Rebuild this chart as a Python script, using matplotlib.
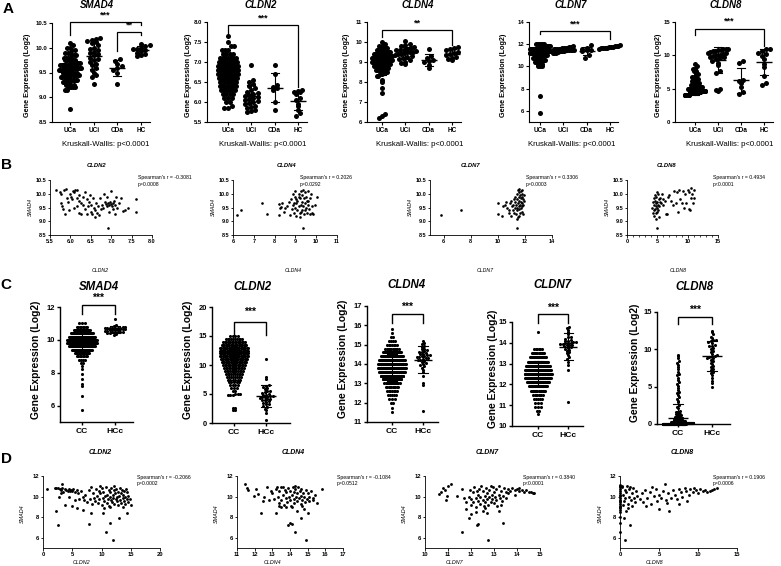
import numpy as np
import matplotlib
matplotlib.use("Agg")
import matplotlib.pyplot as plt

plt.rcParams["font.family"] = ["Liberation Sans", "DejaVu Sans"]
plt.rcParams["font.weight"] = "bold"
plt.rcParams["axes.linewidth"] = 0.8

# ---------------- panel A: tissue groups ----------------
a_groups = ["UCa", "UCi", "CDa", "HC"]
a_genes = ["SMAD4", "CLDN2", "CLDN4", "CLDN7", "CLDN8"]

# UCa is dense -> kept as level / count (one row of dots per level)
uca_smad4_lvl = [8.77, 9.15, 9.2, 9.25, 9.3, 9.35, 9.4, 9.45, 9.5, 9.55, 9.6, 9.65, 9.7, 9.75, 9.8, 9.85, 9.9, 9.95, 10.0, 10.05, 10.1]
uca_smad4_cnt = [1, 2, 4, 4, 5, 6, 7, 8, 9, 10, 10, 9, 8, 6, 4, 3, 3, 2, 2, 1, 1]
uca_cldn2_lvl = [5.85, 5.9, 6.0, 6.1, 6.2, 6.3, 6.4, 6.5, 6.6, 6.7, 6.8, 6.9, 7.0, 7.1, 7.2, 7.3, 7.4, 7.5, 7.65]
uca_cldn2_cnt = [2, 1, 2, 3, 4, 6, 7, 8, 10, 11, 12, 12, 10, 7, 4, 3, 2, 1, 1]
uca_cldn4_lvl = [6.2, 6.3, 6.4, 7.45, 7.7, 8.0, 8.1, 8.3, 8.4, 8.5, 8.6, 8.7, 8.8, 8.9, 9.0, 9.1, 9.2, 9.3, 9.4, 9.5, 9.6, 9.7, 9.8, 9.9, 10.0]
uca_cldn4_cnt = [1, 1, 1, 1, 1, 1, 1, 2, 2, 3, 4, 5, 6, 8, 10, 12, 12, 10, 8, 6, 4, 3, 2, 1, 1]
uca_cldn7_lvl = [5.8, 7.3, 10.0, 10.2, 10.4, 10.6, 10.8, 11.0, 11.2, 11.4, 11.6, 11.8, 12.0]
uca_cldn7_cnt = [1, 1, 3, 3, 4, 5, 7, 10, 14, 20, 18, 14, 6]
uca_cldn8_lvl = [4.1, 4.3, 4.5, 4.7, 4.9, 5.1, 5.3, 5.5, 5.8, 6.1, 6.4, 6.8, 7.2, 7.6, 8.0, 8.4, 8.7]
uca_cldn8_cnt = [12, 14, 14, 12, 10, 8, 7, 6, 5, 4, 3, 3, 2, 2, 2, 1, 1]

uci_smad4 = [10.2, 10.18, 10.15, 10.14, 10.12, 10.1, 10.05, 10.0, 9.98, 9.95, 9.92, 9.9, 9.88, 9.85, 9.8, 9.78, 9.75, 9.72, 9.68, 9.65, 9.6, 9.55, 9.5, 9.45, 9.4, 9.27]
uci_cldn2 = [6.93, 6.55, 6.5, 6.45, 6.4, 6.35, 6.3, 6.25, 6.22, 6.2, 6.18, 6.15, 6.12, 6.1, 6.08, 6.05, 6.02, 6.0, 5.97, 5.95, 5.9, 5.88, 5.85, 5.8, 5.78, 5.76]
uci_cldn4 = [10.05, 9.9, 9.85, 9.8, 9.75, 9.7, 9.65, 9.62, 9.6, 9.58, 9.55, 9.52, 9.5, 9.48, 9.45, 9.42, 9.4, 9.35, 9.3, 9.25, 9.2, 9.15, 9.1, 9.0, 8.95, 8.9]
uci_cldn7 = [11.8, 11.75, 11.72, 11.7, 11.68, 11.65, 11.62, 11.6, 11.6, 11.58, 11.55, 11.55, 11.52, 11.5, 11.5, 11.48, 11.45, 11.45, 11.42, 11.4, 11.38, 11.35, 11.3, 11.25, 11.2, 11.2]
uci_cldn8 = [11.0, 10.95, 10.9, 10.8, 10.75, 10.7, 10.6, 10.5, 10.4, 10.3, 10.2, 10.1, 10.0, 9.9, 9.8, 9.7, 9.6, 9.4, 9.2, 8.9, 8.5, 7.7, 7.3, 5.0, 4.8, 4.7]

cda_smad4 = [9.77, 9.73, 9.68, 9.63, 9.6, 9.55, 9.48, 9.27]
cda_cldn2 = [6.93, 6.7, 6.42, 6.38, 6.35, 6.3, 6.0, 5.8]
cda_cldn4 = [9.65, 9.3, 9.2, 9.12, 9.05, 9.0, 8.85, 8.7]
cda_cldn7 = [11.9, 11.7, 11.6, 11.5, 11.45, 11.35, 11.0, 10.8]
cda_cldn8 = [9.1, 8.9, 6.3, 6.1, 5.8, 5.2, 4.5, 4.2]

hc_smad4 = [10.08, 10.05, 10.03, 10.0, 9.98, 9.97, 9.95, 9.93, 9.9, 9.88, 9.85, 9.83]
hc_cldn2 = [6.3, 6.28, 6.25, 6.24, 6.2, 6.1, 6.05, 5.95, 5.9, 5.8, 5.72, 5.65]
hc_cldn4 = [9.75, 9.7, 9.65, 9.6, 9.5, 9.45, 9.4, 9.35, 9.25, 9.2, 9.15, 9.1]
hc_cldn7 = [11.9, 11.85, 11.82, 11.8, 11.78, 11.75, 11.72, 11.7, 11.68, 11.65, 11.62, 11.6]
hc_cldn8 = [11.0, 10.9, 10.6, 10.4, 10.2, 9.9, 9.5, 8.7, 8.2, 6.9, 5.8, 5.6]

a_stars = ["***", "***", "**", "***", "***"]
kw_text = "Kruskall-Wallis: p<0.0001"

# ---------------- panel B: SMAD4 vs claudins (UC) ----------------
b_cldn2 = [(5.65, 10.13), (5.75, 10.05), (5.78, 10.0), (5.78, 9.65), (5.8, 9.55), (5.82, 9.45), (5.85, 10.15),
           (5.87, 9.25), (5.9, 10.18), (5.92, 9.85), (5.95, 9.7), (5.97, 9.42), (6.0, 10.0), (6.02, 9.9),
           (6.05, 9.8), (6.07, 10.1), (6.1, 10.05), (6.1, 9.5), (6.12, 10.13), (6.15, 10.15), (6.15, 9.85),
           (6.17, 9.55), (6.2, 9.75), (6.2, 9.3), (6.22, 9.95), (6.25, 9.65), (6.27, 9.25), (6.3, 9.9),
           (6.32, 9.6), (6.35, 9.45), (6.37, 10.05), (6.4, 9.8), (6.4, 9.27), (6.42, 9.55), (6.45, 9.7),
           (6.47, 9.95), (6.5, 9.35), (6.5, 9.6), (6.52, 9.28), (6.55, 9.85), (6.57, 9.5), (6.6, 9.4),
           (6.6, 9.17), (6.62, 9.65), (6.65, 9.3), (6.67, 9.55), (6.7, 9.22), (6.72, 9.85), (6.75, 9.45),
           (6.77, 9.6), (6.8, 9.5), (6.82, 10.0), (6.85, 9.7), (6.87, 9.62), (6.9, 9.55), (6.9, 9.9),
           (6.92, 9.65), (6.93, 8.77), (6.95, 9.6), (6.95, 9.35), (6.97, 9.7), (7.0, 9.62), (7.0, 10.1),
           (7.02, 9.55), (7.05, 9.65), (7.05, 9.45), (7.07, 9.72), (7.1, 9.6), (7.1, 9.25), (7.12, 9.9),
           (7.15, 9.5), (7.2, 9.65), (7.25, 9.85), (7.3, 9.38), (7.35, 9.42), (7.42, 9.5), (7.62, 9.8), (7.62, 9.33)]
b_cldn4 = [(6.2, 9.22), (6.4, 9.42), (7.4, 9.65), (7.65, 9.25), (8.2, 9.22), (8.2, 9.62), (8.25, 9.5), (8.3, 9.52),
           (8.35, 9.68), (8.45, 9.35), (8.5, 9.5), (8.6, 9.55), (8.7, 9.7), (8.75, 9.22), (8.8, 9.8), (8.85, 9.45),
           (8.9, 9.6), (8.9, 10.0), (8.95, 9.3), (9.0, 9.9), (9.0, 10.1), (9.0, 9.5), (9.05, 9.65), (9.05, 9.2),
           (9.1, 9.75), (9.1, 9.4), (9.15, 10.0), (9.15, 9.55), (9.2, 9.85), (9.2, 9.3), (9.2, 9.15), (9.25, 10.1),
           (9.25, 9.6), (9.3, 9.95), (9.3, 9.7), (9.3, 9.4), (9.35, 10.15), (9.35, 9.55), (9.35, 8.77), (9.4, 9.85),
           (9.4, 9.25), (9.45, 10.05), (9.45, 9.65), (9.5, 9.5), (9.5, 9.9), (9.55, 9.75), (9.55, 9.3), (9.6, 9.6),
           (9.6, 10.1), (9.65, 9.45), (9.7, 9.85), (9.7, 9.25), (9.75, 10.0), (9.8, 9.55), (9.8, 9.3), (9.85, 9.28),
           (9.95, 9.6), (10.05, 9.9), (9.05, 9.8), (8.95, 9.65), (9.15, 9.9), (9.25, 9.35), (9.45, 9.4), (9.6, 9.75)]
b_cldn7 = [(5.8, 9.23), (7.3, 9.42), (10.0, 9.25), (10.05, 9.65), (10.3, 9.2), (10.4, 9.55), (10.5, 9.6), (10.6, 9.7),
           (10.7, 9.5), (10.8, 9.42), (10.85, 9.3), (10.9, 9.65), (11.0, 9.2), (11.0, 9.75), (11.05, 9.55), (11.1, 9.4),
           (11.15, 9.6), (11.2, 9.8), (11.2, 9.3), (11.25, 9.5), (11.3, 9.7), (11.3, 9.9), (11.35, 9.6), (11.35, 9.25),
           (11.4, 10.0), (11.4, 9.5), (11.4, 8.77), (11.45, 9.8), (11.45, 9.4), (11.5, 9.65), (11.5, 10.15), (11.55, 9.9),
           (11.55, 9.55), (11.55, 9.2), (11.6, 10.05), (11.6, 9.75), (11.6, 9.45), (11.65, 9.6), (11.65, 9.95),
           (11.65, 9.3), (11.7, 10.1), (11.7, 9.85), (11.7, 9.7), (11.7, 9.5), (11.75, 10.0), (11.75, 9.65),
           (11.75, 9.35), (11.8, 9.9), (11.8, 9.55), (11.8, 10.12), (11.85, 9.8), (11.85, 9.6), (11.85, 9.25),
           (11.9, 9.95), (11.9, 9.75), (11.5, 9.15), (11.6, 10.18), (11.45, 9.1)]
b_cldn8 = [(4.2, 9.5), (4.3, 9.3), (4.3, 9.7), (4.4, 9.4), (4.4, 9.85), (4.5, 9.6), (4.5, 9.2), (4.6, 9.45), (4.6, 9.75),
           (4.7, 9.55), (4.7, 9.3), (4.8, 9.65), (4.8, 9.9), (4.9, 9.35), (4.9, 9.5), (5.0, 9.7), (5.0, 8.77), (5.0, 10.05),
           (5.1, 9.4), (5.1, 9.6), (5.2, 9.15), (5.2, 9.8), (5.3, 9.55), (5.4, 9.85), (5.5, 9.7), (5.6, 9.65), (5.8, 10.0),
           (5.9, 9.6), (6.2, 9.75), (6.4, 9.28), (6.6, 9.25), (6.8, 9.9), (7.0, 9.95), (7.3, 9.75), (7.6, 9.6), (7.8, 10.1),
           (8.0, 9.65), (8.2, 10.05), (8.4, 9.33), (8.6, 10.15), (8.8, 9.8), (9.0, 9.65), (9.2, 10.1), (9.4, 9.5),
           (9.6, 10.0), (9.8, 9.65), (10.0, 10.15), (10.2, 9.45), (10.3, 10.05), (10.4, 9.4), (10.5, 10.2), (10.6, 9.85),
           (10.7, 10.0), (10.8, 9.65), (11.0, 10.15), (11.1, 9.85), (4.55, 9.95), (5.15, 10.0), (4.75, 9.1), (6.0, 9.8)]
b_r = ["-0.3081", "0.2026", "0.3306", "0.4934"]
b_p = ["p=0.0008", "p=0.0292", "p=0.0003", "p<0.0001"]

# ---------------- panel C: cohort 2 (CC vs HCc) ----------------
c_groups = ["CC", "HCc"]
c_genes = ["SMAD4", "CLDN2", "CLDN4", "CLDN7", "CLDN8"]
cc_smad4_lvl = [5.75, 6.6, 7.2, 7.3, 7.6, 7.95, 8.2, 8.4, 8.6, 8.8, 9.0, 9.2, 9.4, 9.6, 9.8, 10.0, 10.2, 10.4, 10.6, 10.8, 11.0]
cc_smad4_cnt = [1, 1, 1, 1, 1, 1, 1, 1, 2, 4, 8, 15, 25, 40, 50, 50, 40, 30, 18, 8, 3]
cc_cldn2_lvl = [2.3, 2.6, 4.8, 5.0, 5.5, 6.0, 6.5, 7.0, 7.5, 8.0, 8.5, 9.0, 9.5, 10.0, 10.5, 11.0, 11.5, 12.0, 12.5, 13.0, 13.5, 14.0, 14.5, 15.0]
cc_cldn2_cnt = [2, 2, 3, 3, 2, 3, 4, 5, 6, 8, 10, 12, 14, 16, 20, 22, 24, 26, 26, 24, 20, 16, 10, 4]
cc_cldn4_lvl = [11.5, 11.7, 12.0, 12.2, 12.4, 12.6, 12.8, 13.0, 13.2, 13.4, 13.6, 13.8, 14.0, 14.2, 14.4, 14.6, 14.8, 15.0, 15.2, 15.4, 15.6, 15.8]
cc_cldn4_cnt = [1, 1, 2, 3, 5, 7, 10, 15, 22, 30, 38, 42, 40, 35, 28, 20, 12, 7, 4, 2, 1, 1]
cc_cldn7_lvl = [10.6, 10.7, 10.9, 11.1, 11.3, 11.5, 11.7, 11.9, 12.1, 12.3, 12.5, 12.7, 12.9, 13.1, 13.3, 13.5, 13.7, 14.5]
cc_cldn7_cnt = [1, 2, 3, 3, 5, 8, 14, 22, 32, 40, 45, 42, 35, 28, 20, 12, 6, 1]
cc_cldn8_lvl = [0.0, 0.15, 0.3, 0.45, 0.6, 0.8, 1.0, 1.2, 1.4, 1.6]
cc_cldn8_cnt = [120, 40, 25, 15, 10, 8, 6, 5, 4, 3]
cc_cldn8_tail = [1.8, 2.1, 2.3, 2.6, 2.9, 3.1, 3.4, 3.6, 3.9, 4.1, 4.3, 4.5, 4.8, 5.1, 5.4, 5.6, 5.9, 6.2,
                 6.5, 6.7, 7.0, 7.3, 7.6, 7.9, 8.2, 8.5, 8.8, 9.1, 9.3]

hcc_smad4 = [11.25, 10.9, 10.85, 10.8, 10.8, 10.75, 10.75, 10.7, 10.7, 10.7, 10.65, 10.65, 10.6, 10.6, 10.6,
             10.55, 10.55, 10.5, 10.5, 10.45, 10.45, 10.4, 10.4, 10.35, 10.3, 10.7, 10.65, 10.6, 10.75, 10.5]
hcc_cldn2 = [11.0, 8.0, 7.6, 6.5, 6.3, 6.0, 5.8, 5.6, 5.5, 5.3, 5.0, 4.9, 4.7, 4.6, 4.5, 4.4, 4.3, 4.2, 4.1,
             4.0, 3.9, 3.8, 3.6, 3.5, 3.3, 3.0, 2.8, 2.5, 2.3, 1.8, 0.6, 4.8, 5.2, 3.2, 4.4, 6.2]
hcc_cldn4 = [15.2, 15.1, 15.05, 14.95, 14.9, 14.8, 14.75, 14.7, 14.65, 14.6, 14.55, 14.5, 14.5, 14.45, 14.4,
             14.4, 14.35, 14.3, 14.3, 14.25, 14.2, 14.2, 14.15, 14.1, 14.05, 14.0, 13.95, 13.9, 13.8, 13.7,
             13.6, 13.4, 13.0, 12.9, 11.55, 14.35, 14.6, 14.45]
hcc_cldn7 = [14.75, 14.7, 14.6, 14.5, 14.4, 14.3, 14.2, 14.15, 14.1, 14.05, 14.0, 14.0, 13.95, 13.95, 13.9,
             13.9, 13.85, 13.8, 13.75, 13.7, 13.65, 13.6, 13.55, 13.5, 13.4, 13.3, 13.2, 13.1, 12.95, 12.7,
             11.15, 14.05, 13.98, 14.1, 13.9, 14.3]
hcc_cldn8 = [12.5, 12.3, 12.0, 11.7, 11.5, 11.3, 11.2, 11.0, 10.8, 10.6, 10.4, 10.2, 10.0, 9.8, 9.6, 9.4,
             9.2, 9.0, 9.0, 8.8, 8.6, 8.4, 8.2, 8.0, 7.8, 7.6, 7.4, 7.2, 7.0, 6.8, 6.5, 6.2, 5.8, 5.5, 4.9,
             9.1, 8.9, 10.5, 11.1]

# ---------------- panel D: SMAD4 vs claudins (cohort 2) ----------------
d_cldn2 = [(0.6, 10.7), (2.3, 8.6), (2.5, 7.2), (3.2, 11.2), (3.8, 9.2), (5.0, 9.1), (5.8, 8.9), (6.8, 8.7),
           (7.8, 7.35), (8.2, 8.4), (10.2, 8.4), (10.8, 6.6), (11.5, 7.4), (12.0, 5.75), (13.0, 7.9), (14.3, 8.4),
           (2.0, 10.85), (2.3, 10.8), (2.6, 10.8), (2.9, 10.75), (3.1, 10.6), (3.3, 10.85), (3.5, 10.4), (3.7, 10.7),
           (4.0, 10.6), (4.2, 10.5), (4.4, 10.7), (4.6, 10.55), (4.8, 10.65), (5.0, 10.5), (5.2, 10.7), (5.5, 10.45),
           (5.8, 10.6), (6.0, 10.3), (2.8, 10.0), (3.0, 10.3), (4.5, 10.0), (5.5, 9.7), (6.2, 9.8), (6.5, 10.5),
           (6.8, 10.0), (7.0, 9.7), (7.2, 10.2), (7.5, 9.5), (7.8, 10.6), (8.0, 9.8), (8.2, 10.9), (8.4, 9.3),
           (8.5, 10.3), (8.7, 9.9), (8.9, 9.6), (9.0, 10.7), (9.2, 10.1), (9.4, 9.4), (9.5, 10.5), (9.6, 9.8),
           (9.8, 10.3), (10.0, 9.2), (10.0, 10.8), (10.2, 9.9), (10.3, 10.4), (10.5, 9.6), (10.6, 10.1), (10.8, 10.9),
           (10.9, 9.4), (11.0, 10.2), (11.1, 9.8), (11.2, 10.6), (11.3, 9.1), (11.4, 10.0), (11.5, 10.4), (11.6, 9.7),
           (11.7, 10.8), (11.8, 9.5), (11.9, 10.2), (12.0, 9.9), (12.1, 10.6), (12.2, 9.3), (12.3, 10.3), (12.4, 9.8),
           (12.5, 10.7), (12.6, 10.0), (12.7, 9.6), (12.8, 10.4), (12.9, 9.2), (13.0, 10.1), (13.1, 10.8), (13.2, 9.7),
           (13.3, 10.3), (13.4, 9.4), (13.5, 10.6), (13.6, 9.9), (13.7, 10.2), (13.8, 9.6), (13.9, 10.5), (14.0, 9.3),
           (14.1, 10.0), (14.2, 10.7), (14.3, 9.8), (14.4, 10.4), (14.5, 9.5), (14.6, 10.1), (14.8, 9.8), (15.0, 9.2),
           (9.7, 11.0), (12.2, 11.0), (11.5, 9.0), (10.5, 8.9), (13.7, 9.0)]
d_cldn4 = [(11.45, 11.25), (11.55, 10.8), (11.65, 10.6), (11.95, 10.1), (12.1, 10.75), (12.2, 10.25), (12.35, 8.4),
           (12.45, 9.6), (12.55, 10.0), (12.7, 10.9), (12.8, 9.7), (12.9, 10.5), (13.2, 8.4), (13.5, 9.0), (13.9, 7.2),
           (14.0, 7.4), (14.1, 7.35), (14.3, 6.6), (14.4, 8.6), (14.6, 7.9), (14.9, 5.75), (15.0, 8.4), (14.8, 8.8),
           (15.8, 10.75), (15.5, 9.4), (15.3, 9.7), (13.0, 10.3), (13.1, 9.8), (13.2, 10.7), (13.3, 10.0), (13.35, 9.4),
           (13.4, 10.5), (13.5, 10.9), (13.5, 9.7), (13.6, 10.2), (13.65, 9.2), (13.7, 10.6), (13.75, 9.9), (13.8, 10.4),
           (13.85, 9.5), (13.9, 10.8), (13.95, 10.0), (14.0, 9.7), (14.0, 10.5), (14.05, 9.1), (14.1, 10.2), (14.15, 10.9),
           (14.2, 9.8), (14.2, 10.4), (14.25, 9.4), (14.3, 10.7), (14.35, 10.0), (14.4, 9.6), (14.4, 10.3), (14.45, 10.9),
           (14.5, 9.9), (14.55, 10.5), (14.6, 9.3), (14.6, 10.1), (14.65, 10.7), (14.7, 9.7), (14.75, 10.3), (14.8, 10.0),
           (14.85, 9.5), (14.9, 10.6), (14.95, 9.8), (15.0, 10.3), (15.05, 9.6), (15.1, 10.0), (15.2, 10.5), (15.3, 9.9),
           (15.4, 10.2), (13.4, 9.1), (13.6, 10.95), (14.1, 9.0), (14.7, 9.1), (13.25, 10.9), (14.3, 11.0), (13.8, 9.0)]
d_cldn7 = [(10.6, 10.25), (10.7, 10.4), (10.8, 10.8), (10.85, 10.6), (10.9, 9.65), (10.95, 10.1), (11.0, 11.05),
           (11.15, 11.25), (11.4, 10.05), (11.6, 10.7), (11.7, 9.85), (13.6, 10.7), (13.7, 10.5), (13.8, 10.8),
           (13.9, 10.6), (14.0, 10.75), (14.1, 10.5), (14.2, 10.65), (14.3, 10.4), (14.4, 10.6), (14.5, 10.45),
           (14.6, 10.4), (14.7, 10.35), (14.75, 10.3), (13.9, 10.2), (14.1, 10.85), (13.6, 10.3), (11.6, 6.6),
           (12.25, 7.25), (12.3, 7.35), (12.75, 5.75), (13.4, 7.4), (11.9, 7.9), (12.0, 8.3), (12.2, 8.5), (12.5, 8.6),
           (12.7, 8.4), (13.2, 8.6), (11.8, 8.8), (11.8, 9.5), (11.9, 10.0), (12.0, 9.2), (12.0, 9.8), (12.1, 10.4),
           (12.1, 9.5), (12.2, 9.9), (12.2, 9.0), (12.3, 10.2), (12.3, 9.6), (12.35, 10.7), (12.4, 9.3), (12.4, 10.0),
           (12.5, 9.7), (12.5, 10.5), (12.55, 9.1), (12.6, 10.1), (12.6, 9.5), (12.65, 10.8), (12.7, 9.8), (12.7, 10.3),
           (12.75, 9.2), (12.8, 10.0), (12.8, 10.6), (12.85, 9.5), (12.9, 10.2), (12.9, 9.8), (12.95, 10.9), (13.0, 9.4),
           (13.0, 10.4), (13.05, 10.0), (13.1, 9.7), (13.1, 10.7), (13.15, 9.1), (13.2, 10.2), (13.25, 9.9), (13.3, 10.5),
           (13.35, 9.6), (13.4, 10.1), (13.45, 10.8), (13.5, 9.9), (13.5, 10.4), (12.45, 11.0), (12.85, 11.05),
           (13.2, 11.0), (11.95, 10.6), (12.15, 10.9), (12.6, 8.9), (13.3, 9.2), (12.25, 10.55)]
d_cldn8 = [(0, 11.1), (0, 10.9), (0, 10.7), (0, 10.5), (0, 10.3), (0, 10.1), (0, 9.9), (0, 9.7), (0, 9.5), (0, 9.3),
           (0, 9.1), (0, 8.9), (0, 8.7), (0, 8.5), (0, 8.0), (0, 7.4), (0, 6.6), (0, 11.0), (0, 10.2), (0, 9.6), (0, 9.0),
           (0.3, 10.9), (0.4, 10.2), (0.5, 9.6), (0.6, 10.6), (0.6, 5.75), (0.7, 9.9), (0.8, 10.4), (0.9, 11.0),
           (1.0, 9.3), (1.1, 10.0), (1.2, 10.7), (1.3, 7.2), (1.4, 9.7), (1.5, 10.3), (1.6, 9.1), (1.7, 10.8), (1.8, 9.9),
           (2.0, 10.5), (0.5, 7.9), (0.8, 8.6), (1.0, 8.9), (0.35, 9.2), (1.9, 9.5), (2.2, 10.1), (0.2, 11.0), (1.25, 10.95),
           (2.5, 9.8), (2.8, 10.3), (3.0, 9.5), (3.2, 10.6), (3.5, 9.9), (3.8, 10.4), (4.0, 9.3), (4.3, 10.1), (4.6, 10.7),
           (4.8, 9.6), (5.0, 10.2), (5.0, 8.8), (5.3, 9.9), (5.5, 10.5), (5.8, 11.25), (5.9, 9.7), (6.2, 10.3), (6.3, 8.6),
           (6.5, 9.9), (6.8, 10.6), (7.0, 10.2), (7.3, 9.8), (7.5, 10.7), (7.8, 10.4), (8.0, 10.0), (8.3, 10.8), (8.5, 10.5),
           (8.8, 10.2), (9.0, 10.7), (9.3, 10.4), (9.5, 10.8), (9.8, 10.6), (10.0, 10.3), (10.3, 10.7), (10.6, 10.5),
           (10.9, 10.6), (11.2, 10.4), (11.5, 10.5), (11.8, 10.6), (12.1, 10.7), (12.4, 10.8), (6.0, 9.4), (4.1, 10.9),
           (3.3, 9.1), (7.6, 9.3), (8.6, 9.6)]
d_r = ["-0.2066", "-0.1084", "0.3840", "0.1906"]
d_p = ["p=0.0002", "p=0.0512", "p<0.0001", "p=0.0006"]
bd_genes = ["CLDN2", "CLDN4", "CLDN7", "CLDN8"]

# ---------------- figure helpers (pixel layout) ----------------
W, H = 781, 566
fig = plt.figure(figsize=(W / 100, H / 100), dpi=100)


def ptext(x, y, s, **kw):
    kw.setdefault("ha", "center")
    kw.setdefault("va", "center")
    fig.text(x / W, 1 - y / H, s, **kw)


def add_ax(box, xlim, ylim):
    l, t, r, b = box
    ax = fig.add_axes([l / W, 1 - b / H, (r - l) / W, (b - t) / H])
    ax.set_xlim(xlim)
    ax.set_ylim(ylim)
    ax.spines[["top", "right"]].set_visible(False)
    ax.patch.set_alpha(0)
    return ax


def dot_panel(box, c0, sp, ylim, yticks, ylabels, groups, d_px, s, mean_hw, cap_hw, spread, lw):
    l, t, r, b = box
    ax = add_ax(box, ((l - c0) / sp, (r - c0) / sp), ylim)
    row_h = d_px * (ylim[1] - ylim[0]) / (b - t)
    dx = d_px / sp
    for i, vals in enumerate(groups):
        v = np.sort(np.asarray(vals, float))
        keys = np.round(v / row_h).astype(int)
        uk, counts = np.unique(keys, return_counts=True)
        nmax = counts.max()
        x = np.zeros_like(v)
        for k, n in zip(uk, counts):
            idx = np.flatnonzero(keys == k)
            # row half-width grows with the row count, capped by the column spread
            hw = min((n - 1) / 2 * dx, spread * (n / nmax) ** 0.6)
            step = 2 * hw / (n - 1) if n > 1 else 0
            x[idx] = i + (np.arange(n) - (n - 1) / 2) * step
        ax.scatter(x, v, s=s, c="black", linewidths=0, clip_on=False, zorder=2)
        m, sd = v.mean(), v.std(ddof=1)
        ax.plot([i - mean_hw, i + mean_hw], [m, m], color="black", lw=lw, zorder=3, solid_capstyle="butt")
        ax.plot([i, i], [max(m - sd, ylim[0]), m + sd], color="black", lw=lw * 0.8, zorder=3)
        for e in (m - sd, m + sd):
            if e >= ylim[0]:
                ax.plot([i - cap_hw, i + cap_hw], [e, e], color="black", lw=lw * 0.8, zorder=3)
    ax.set_yticks(yticks)
    ax.set_yticklabels(ylabels)
    ax.set_xticks(range(len(groups)))
    return ax


def bracket(ax, x1, x2, y, y1, y2, lw):
    ax.plot([x1, x1, x2, x2], [y1, y, y, y2], color="black", lw=lw, clip_on=False, solid_joinstyle="miter")


def scatter_panel(box, xlim, xticks, xlabels, ylim, yticks, ylabels, pts, s, fs, minor=None):
    ax = add_ax(box, xlim, ylim)
    p = np.asarray(pts, float)
    ax.scatter(p[:, 0], p[:, 1], s=s, c="black", linewidths=0, clip_on=False, zorder=2)
    ax.set_xticks(xticks)
    ax.set_xticklabels(xlabels)
    ax.set_yticks(yticks)
    ax.set_yticklabels(ylabels)
    if minor is not None:
        ax.set_xticks(minor, minor=True)
        ax.tick_params(axis="x", which="minor", length=1.3, width=0.5)
    ax.tick_params(labelsize=fs, length=1.8, width=0.6, pad=1)
    for sp_ in ax.spines.values():
        sp_.set_linewidth(0.6)
    return ax


# ---------------- panel A ----------------
a_data = [
    [np.repeat(uca_smad4_lvl, uca_smad4_cnt), uci_smad4, cda_smad4, hc_smad4],
    [np.repeat(uca_cldn2_lvl, uca_cldn2_cnt), uci_cldn2, cda_cldn2, hc_cldn2],
    [np.repeat(uca_cldn4_lvl, uca_cldn4_cnt), uci_cldn4, cda_cldn4, hc_cldn4],
    [np.repeat(uca_cldn7_lvl, uca_cldn7_cnt), uci_cldn7, cda_cldn7, hc_cldn7],
    [np.repeat(uca_cldn8_lvl, uca_cldn8_cnt), uci_cldn8, cda_cldn8, hc_cldn8],
]
a_box = [(52, 23, 150, 122), (207, 22, 307, 122), (367, 22, 461, 122), (529, 22, 618, 122), (675, 22, 773, 122)]
a_c0 = [70, 228, 382, 540, 695]
a_sp = [23.7, 23.3, 23.3, 23.3, 23.0]
a_ylim = [(8.5, 10.5), (5.5, 8.0), (6, 11), (5, 14), (0, 15)]
a_yt = [[8.5, 9.0, 9.5, 10.0, 10.5], [5.5, 6.0, 6.5, 7.0, 7.5, 8.0], [6, 7, 8, 9, 10, 11], [6, 8, 10, 12, 14], [0, 5, 10, 15]]
# bracket: (x1, x2, y, left leg end, right leg end, star y)
a_br = [[(0, 3, 10.52, 10.25, 10.45, 10.66), (2, 3, 10.32, 9.93, 10.25, 10.45)],
        [(0, 3, 7.92, 7.68, 6.38, 8.11)],
        [(0, 3, 10.6, 10.27, 9.85, 10.93)],
        [(0, 3, 13.23, 12.9, 12.46, 13.78)],
        [(0, 3, 14.0, 13.0, 11.4, 15.1)]]
a_title_x = [97, 261, 418, 571, 726]
a_kw_x = [106, 263, 420, 572, 730]
a_ylab_x = [28, 189, 347, 503, 658]

for j, gene in enumerate(a_genes):
    fmt = "{:.1f}" if j < 2 else "{:g}"
    ax = dot_panel(a_box[j], a_c0[j], a_sp[j], a_ylim[j], a_yt[j], [fmt.format(v) for v in a_yt[j]],
                   a_data[j], d_px=4.2, s=13, mean_hw=0.34, cap_hw=0.17, spread=0.45, lw=1.0)
    ax.set_xticklabels(a_groups)
    ax.tick_params(labelsize=4.7, length=2, width=0.8, pad=1.5)
    ax.tick_params(axis="y", labelsize=4.3)
    stars = ["***", "**"] if j == 0 else [a_stars[j]]
    for (x1, x2, y, y1, y2, sy), st in zip(a_br[j], stars):
        bracket(ax, x1, x2, y, y1, y2, 0.9)
        ax.text((x1 + x2) / 2, sy, st, ha="center", va="center", fontsize=6.5, clip_on=False)
    ptext(a_title_x[j], 4.5, gene, fontsize=7, style="italic")
    ptext(a_kw_x[j], 145, kw_text, fontsize=5.6, fontweight="normal")
    ptext(a_ylab_x[j], 75, "Gene Expression (Log2)", fontsize=5.2, rotation=90)

# ---------------- panel B ----------------
b_pts = [b_cldn2, b_cldn4, b_cldn7, b_cldn8]
b_box = [(50, 180, 152, 235), (233, 180, 337, 235), (430, 180, 552, 235), (627, 180, 718, 235)]
b_xlim = [(5.5, 8.0), (6, 11), (5, 14), (0, 15)]
b_xt = [[5.5, 6.0, 6.5, 7.0, 7.5, 8.0], [6, 7, 8, 9, 10, 11], [6, 8, 10, 12, 14], [0, 5, 10, 15]]
b_yt = [8.5, 9.0, 9.5, 10.0, 10.5]
b_title_x = [97, 287, 471, 667]
b_xlab_x = [100, 293, 485, 678]
b_txt_x = [138, 300, 526, 713]
b_ylab_x = [30, 213, 410, 607]
for j, gene in enumerate(bd_genes):
    xl = ["{:.1f}".format(v) for v in b_xt[j]] if j == 0 else ["{:g}".format(v) for v in b_xt[j]]
    scatter_panel(b_box[j], b_xlim[j], b_xt[j], xl, (8.5, 10.5), b_yt, ["{:.1f}".format(v) for v in b_yt],
                  b_pts[j], s=3.6, fs=4.0, minor=list(range(0, 16)) if j == 3 else None)
    ptext(b_title_x[j], 165, gene, fontsize=4.2, style="italic")
    ptext(b_xlab_x[j], 270, gene, fontsize=3.8, style="italic", fontweight="normal")
    ptext(b_ylab_x[j], 207, "SMAD4", fontsize=3.8, style="italic", fontweight="normal", rotation=90)
    ptext(b_txt_x[j], 178, "Spearman's r = " + b_r[j], fontsize=3.7, fontweight="normal", ha="left")
    ptext(b_txt_x[j], 184.5, b_p[j], fontsize=3.7, fontweight="normal", ha="left")

# ---------------- panel C ----------------
cc_cldn8 = np.concatenate([np.repeat(cc_cldn8_lvl, cc_cldn8_cnt), cc_cldn8_tail])
c_data = [
    [np.repeat(cc_smad4_lvl, cc_smad4_cnt), hcc_smad4],
    [np.repeat(cc_cldn2_lvl, cc_cldn2_cnt), hcc_cldn2],
    [np.repeat(cc_cldn4_lvl, cc_cldn4_cnt), hcc_cldn4],
    [np.repeat(cc_cldn7_lvl, cc_cldn7_cnt), hcc_cldn7],
    [cc_cldn8, hcc_cldn8],
]
c_box = [(60, 307, 133, 422), (212, 307, 290, 423), (367, 306, 438, 422), (512, 322, 583, 426), (657, 312, 730, 424)]
c_c0 = [82, 234, 392, 538, 678]
c_sp = [33, 32, 31, 30, 34]
c_ylim = [(5, 12), (0, 20), (11, 17), (10, 15), (0, 15)]
c_yt = [[6, 8, 10, 12], [0, 5, 10, 15, 20], [11, 12, 13, 14, 15, 16, 17], [10, 11, 12, 13, 14, 15], [0, 5, 10, 15]]
c_br = [(0, 1, 12.1, 11.6, 11.6, 12.58), (0, 1, 17.5, 15.2, 15.2, 19.1), (0, 1, 16.6, 16.1, 16.1, 16.95),
        (0, 1, 15.38, 14.95, 14.95, 15.7), (0, 1, 14.37, 13.4, 13.4, 15.3)]
c_title = [(99, 287), (252, 287), (406, 285), (553, 285), (694, 287)]
c_ylab_x = [36, 188, 343, 493, 635]
for j, gene in enumerate(c_genes):
    ax = dot_panel(c_box[j], c_c0[j], c_sp[j], c_ylim[j], c_yt[j], [str(v) for v in c_yt[j]],
                   c_data[j], d_px=2.6, s=5, mean_hw=0.3, cap_hw=0.15, spread=0.45, lw=1.0)
    ax.set_xticklabels(c_groups)
    ax.tick_params(labelsize=6.1, length=2.5, width=1.0, pad=1.5)
    ax.tick_params(axis="y", labelsize=5.4, pad=1)
    for sp_ in ax.spines.values():
        sp_.set_linewidth(1.0)
    x1, x2, y, y1, y2, sy = c_br[j]
    bracket(ax, x1, x2, y, y1, y2, 1.0)
    ax.text(0.5, sy, "***", ha="center", va="center", fontsize=7.5, clip_on=False)
    ptext(c_title[j][0], c_title[j][1], gene, fontsize=8.3, style="italic")
    ylab_y = (c_box[j][1] + c_box[j][3]) / 2 - 5
    ptext(c_ylab_x[j], ylab_y, "Gene Expression (Log2)", fontsize=7.4, rotation=90)

# ---------------- panel D ----------------
d_pts = [d_cldn2, d_cldn4, d_cldn7, d_cldn8]
d_box = [(43, 476, 160, 548), (237, 476, 343, 548), (425, 476, 540, 548), (620, 476, 737, 548)]
d_xlim = [(0, 20), (11, 17), (10, 15), (0, 15)]
d_xt = [[0, 5, 10, 15, 20], [11, 12, 13, 14, 15, 16, 17], [10, 11, 12, 13, 14, 15], [0, 5, 10, 15]]
d_yt = [6, 8, 10, 12]
d_title_x = [100, 293, 487, 682]
d_xlab_x = [82, 273, 455, 655]
d_txt_x = [137, 337, 523, 713]
d_ylab_x = [22, 216, 404, 600]
for j, gene in enumerate(bd_genes):
    scatter_panel(d_box[j], d_xlim[j], d_xt[j], [str(v) for v in d_xt[j]], (5, 12), d_yt, [str(v) for v in d_yt],
                  d_pts[j], s=4.2, fs=4.2)
    ptext(d_title_x[j], 453, gene, fontsize=5.0, style="italic")
    ptext(d_xlab_x[j], 562, gene, fontsize=3.9, style="italic", fontweight="normal")
    ptext(d_ylab_x[j], 514, "SMAD4", fontsize=3.9, style="italic", fontweight="normal", rotation=90)
    ptext(d_txt_x[j], 477.5, "Spearman's r = " + d_r[j], fontsize=3.7, fontweight="normal", ha="left")
    ptext(d_txt_x[j], 484, d_p[j], fontsize=3.7, fontweight="normal", ha="left")

# ---------------- panel letters ----------------
for letter, (lx, ly) in zip("ABCD", [(8, 9), (7, 165), (6, 285), (6, 459)]):
    ptext(lx, ly, letter, fontsize=11)

fig.savefig("out.png", dpi=100, facecolor="white")
